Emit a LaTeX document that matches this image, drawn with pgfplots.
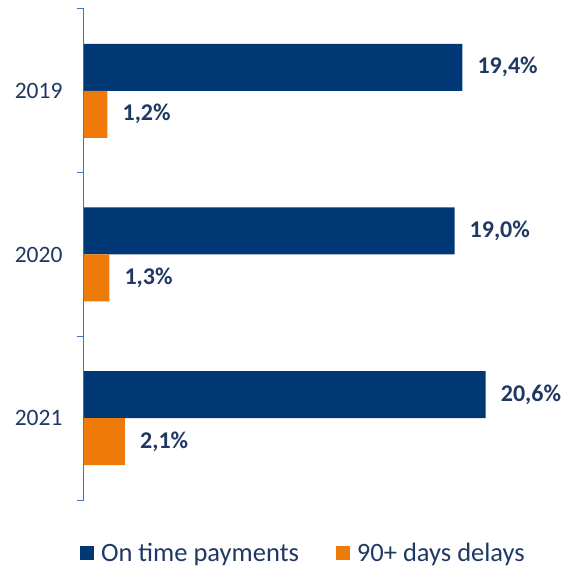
\documentclass[border=0pt]{standalone}
\usepackage{fontspec}
\setmainfont{Carlito}
\usepackage{pgfplots}
\pgfplotsset{compat=1.18}
\definecolor{navybar}{RGB}{0,56,118}
\definecolor{orangebar}{RGB}{238,122,10}
\definecolor{navytext}{RGB}{31,56,100}
\definecolor{axisblue}{RGB}{68,114,196}
\begin{document}
\begin{tikzpicture}
\begin{axis}[
  at={(0pt,0pt)}, anchor=south west,
  scale only axis,
  width=468pt, height=491pt,
  xmin=0, xmax=24,
  ymin=-0.5, ymax=2.5,
  axis x line=none,
  axis y line*=left,
  y axis line style={draw=axisblue, line width=1pt},
  ytick={0,1,2},
  yticklabels={2021,2020,2019},
  major tick length=0pt,
  minor ytick={-0.5,0.5,1.5,2.5},
  minor tick length=7pt,
  tick align=outside,
  ytick style={draw=axisblue, line width=1pt},
  yticklabel style={font=\fontsize{23.5}{27}\selectfont, text=navytext, xshift=-18pt},
  /pgf/number format/assume math mode=true,
  xbar,
  bar width=47pt,
  nodes near coords={\pgfmathprintnumber[fixed, fixed zerofill, precision=1, use comma]{\pgfplotspointmeta}\%},
  every node near coord/.append style={font=\bfseries\fontsize{24}{28}\selectfont, text=navytext, anchor=west, inner sep=0pt, xshift=15pt},
  legend columns=2,
  legend style={draw=none, fill=none, inner sep=0pt, outer sep=0pt,
    at={(-0.0085,-0.108)}, anchor=west,
    font=\fontsize{26.5}{30}\selectfont, text=navytext,
    nodes={inner sep=0pt},
    /tikz/every odd column/.append style={column sep=7pt},
    /tikz/every even column/.append style={column sep=37pt}},
  legend image code/.code={\path[#1, draw=none] (0pt,-7pt) rectangle (14pt,7pt);},
]
\addplot[fill=navybar, draw=none, bar shift=23.5pt] coordinates {(19.4,2) (19.0,1) (20.6,0)};
\addplot[fill=orangebar, draw=none, bar shift=-23.5pt] coordinates {(1.2,2) (1.3,1) (2.1,0)};
\legend{On time payments, 90+ days delays}
\end{axis}
\pgfresetboundingbox
\path (-84pt,-69pt) rectangle (480pt,500pt);
\end{tikzpicture}
\end{document}
